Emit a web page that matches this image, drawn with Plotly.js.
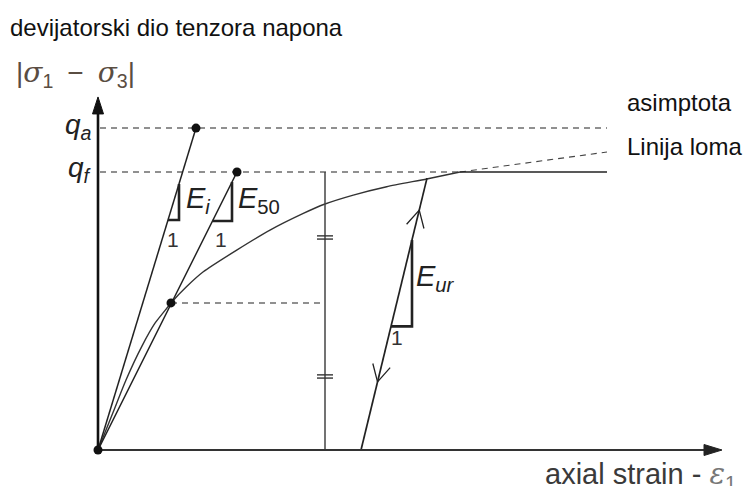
<!DOCTYPE html>
<html><head><meta charset="utf-8">
<script src="https://cdn.plot.ly/plotly-3.0.1.min.js"></script>
<style>html,body{margin:0;padding:0;background:#fff}#chart{width:743px;height:486px}</style>
</head><body><div id="chart"></div>
<script>
// ---- values (strain units, stress with qf = 100) ----
const curveStrain = [0, 1.47, 2.8, 4.37, 5.7, 6.55, 7.3, 8.87, 10.53, 13.87, 17.2, 20.53, 22.63, 25.53, 28.87, 32.87, 36.2];
const curveStress = [0, 13.2, 25.2, 37.2, 45.6, 49.5, 52.9, 58.8, 64.1, 71.9, 79.1, 85.1, 88.4, 91.7, 94.7, 97.5, 100];
const qf = 100;
const qa = 115.8;
const failStrain = 36.2;      // curve reaches qf
const endStrain = 50.9;       // right end of horizontal lines
const failLineEnd = 107.2;    // stress at end of dashed continuation
const halfStrain = 7.3, halfStress = 52.9;
const eiTopStrain = 9.8;      // Ei tangent at qa
const e50TopStrain = 13.9;    // E50 secant at qf
const measureStrain = 22.7;
const eurStrain = [26.3, 32.9];
const eurStress = [0, 97.8];
const eiTri = [7.0, 8.1];
const e50Tri = [11.45, 13.4];
const eurTri = [29.3, 31.4];
const eurArrowStress = [86.3, 24.5]; // up arrow, down arrow
const axisTipX = 62.4, axisTipY = 127;

const W = 743, H = 486;
const xr = [-9.8, 64.5], yr = [-12.95, 161.87];
const sx = W / (xr[1] - xr[0]), sy = H / (yr[1] - yr[0]);

const DARK = '#222';
const traces = [];
function line(xs, ys, opt) {
  traces.push({type: 'scatter', mode: 'lines', x: xs, y: ys, hoverinfo: 'skip',
    line: Object.assign({color: DARK, width: 1.4}, opt || {})});
}
function fillPoly(xs, ys, color) {
  traces.push({type: 'scatter', mode: 'lines', x: xs, y: ys, fill: 'toself', fillcolor: color,
    line: {color: color, width: 1}, hoverinfo: 'skip'});
}
function offset(x, y, dpx, dpy) { return [x + dpx / sx, y + dpy / sy]; }

const dash = '6px,5px';
line([0.2, endStrain], [qa, qa], {dash: dash, width: 1.1});
line([0.2, failStrain], [qf, qf], {dash: dash, width: 1.1});
line([halfStrain, measureStrain], [halfStress, halfStress], {dash: dash, width: 1.1});
line([failStrain, endStrain], [qf, failLineEnd], {dash: dash, width: 1.1, color: '#444'});
line([failStrain, endStrain], [qf, qf], {width: 1.4});
line(curveStrain, curveStress, {width: 1.4, color: '#333', shape: 'spline', smoothing: 0.6});
line([0, eiTopStrain], [0, qa], {width: 1.5});
line([0, e50TopStrain], [0, qf], {width: 1.5});
line([measureStrain, measureStrain], [0, qf], {width: 1.5, color: '#444'});
const tickMarks = [(halfStress + qf) / 2, halfStress / 2];
tickMarks.forEach(t => {
  [-1.6, 1.6].forEach(d => {
    const y = t + d / sy;
    line([measureStrain - 8 / sx, measureStrain + 8 / sx], [y, y], {width: 1.4, color: '#333'});
  });
});
line(eurStrain, eurStress, {width: 1.7});
function tri(x0, y0, slope, a, b) {
  const ya = y0 + slope * (a - x0), yb = y0 + slope * (b - x0);
  line([a, b, b], [ya, ya, yb], {width: 2.6, color: DARK});
}
tri(0, 0, qa / eiTopStrain, eiTri[0], eiTri[1]);
tri(0, 0, qf / e50TopStrain, e50Tri[0], e50Tri[1]);
const eurSlope = (eurStress[1] - eurStress[0]) / (eurStrain[1] - eurStrain[0]);
tri(eurStrain[0], eurStress[0], eurSlope, eurTri[0], eurTri[1]);
(function () {
  const ux = (eurStrain[1] - eurStrain[0]) * sx, uy = (eurStress[1] - eurStress[0]) * sy;
  const ang = Math.atan2(uy, ux);
  const L = 19, th = 28 * Math.PI / 180;
  eurArrowStress.forEach((s, i) => {
    const x = eurStrain[0] + (s - eurStress[0]) / eurSlope;
    const base = i === 0 ? ang + Math.PI : ang;
    const w1 = offset(x, s, L * Math.cos(base + th), L * Math.sin(base + th));
    const w2 = offset(x, s, L * Math.cos(base - th), L * Math.sin(base - th));
    line([w1[0], x, w2[0]], [w1[1], s, w2[1]], {width: 1.3});
  });
})();
line([0, 0], [0, axisTipY - 10 / sy], {width: 2.6, color: '#111'});
line([0, axisTipX - 10 / sx], [0, 0], {width: 2, color: '#333'});
(function () {
  const a = offset(0, axisTipY, -5.5, -17), b = offset(0, axisTipY, 5.5, -17);
  fillPoly([a[0], 0, b[0], a[0]], [a[1], axisTipY, b[1], a[1]], '#111');
  const c = offset(axisTipX, 0, -18, 5.5), d = offset(axisTipX, 0, -18, -5.5);
  fillPoly([c[0], axisTipX, d[0], c[0]], [c[1], 0, d[1], c[1]], '#222');
})();
traces.push({type: 'scatter', mode: 'markers', hoverinfo: 'skip', cliponaxis: false,
  x: [0, halfStrain, eiTopStrain, e50TopStrain], y: [0, halfStress, qa, qf],
  marker: {color: '#111', size: 9}});

// ---- text ----
const FONT = 'Liberation Sans, Arial, sans-serif';
function P(px, py) { return {x: px / W, y: 1 - py / H}; }
function txt(px, py, text, size, opts) {
  const p = P(px, py);
  const o = opts || {};
  return Object.assign({xref: 'paper', yref: 'paper', x: p.x, y: p.y, text: text, showarrow: false,
    xanchor: 'left', yanchor: 'middle', font: {family: FONT, size: size, color: o.color || DARK}}, o.extra || {});
}
const serif = "<span style='font-family:DejaVu Serif,serif'>";
const annotations = [
  txt(8, 28, 'devijatorski dio tenzora napona', 24, {color: '#111'}),
  txt(14, 74, '|' + serif + '<i>σ</i></span><sub>1</sub>\u2002−\u2002' + serif + '<i>σ</i></span><sub>3</sub>|', 28,
      {color: '#5a4d42'}),
  txt(94, 126, '<i>q</i><sub><i>a</i></sub>', 28, {extra: {xanchor: 'right'}}),
  txt(94, 169, '<i>q</i><sub><i>f</i></sub>', 28, {extra: {xanchor: 'right'}}),
  txt(625, 103, 'asimptota', 24, {color: '#111'}),
  txt(625, 146, 'Linija loma', 24, {color: '#111'}),
  txt(184, 200, '<i>E</i><sub><i>i</i></sub>', 29),
  txt(236, 200, '<i>E</i><sub>50</sub>', 29),
  txt(414, 278, '<i>E</i><sub><i>ur</i></sub>', 29),
  txt(173, 239, '1', 21, {color: '#333', extra: {xanchor: 'center'}}),
  txt(221, 239, '1', 21, {color: '#333', extra: {xanchor: 'center'}}),
  txt(397, 337, '1', 21, {color: '#333', extra: {xanchor: 'center'}}),
  txt(543, 475, 'axial strain - ' + serif + "<i><span style='color:#777'>ε</span></i></span><sub><span style='color:#777'>1</span></sub>", 29,
      {color: '#3a3a3a'})
];

const ax = {visible: false, showgrid: false, zeroline: false, fixedrange: true};
Plotly.newPlot('chart', traces, {
  width: W, height: H, margin: {l: 0, r: 0, t: 0, b: 0},
  paper_bgcolor: '#fff', plot_bgcolor: '#fff', showlegend: false,
  xaxis: Object.assign({}, ax, {range: xr}),
  yaxis: Object.assign({}, ax, {range: yr}),
  annotations: annotations
}, {staticPlot: true, displayModeBar: false});
</script></body></html>
